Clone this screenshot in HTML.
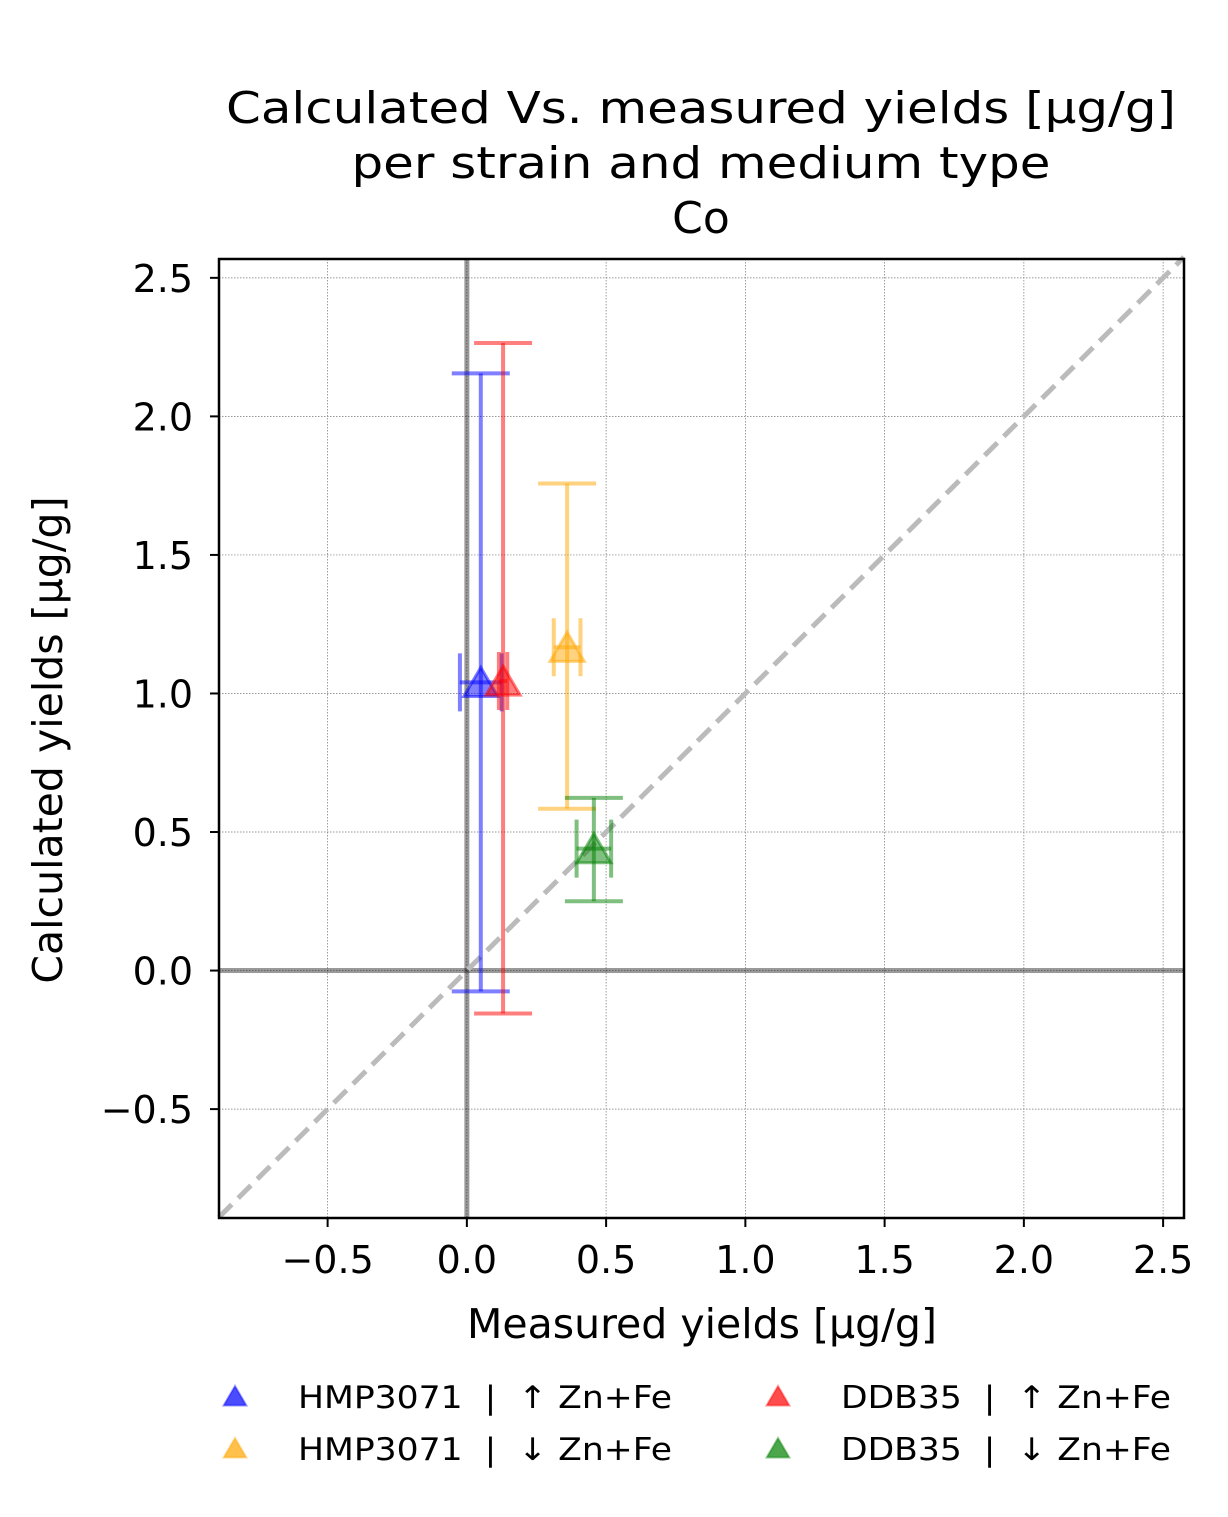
<!DOCTYPE html>
<html><head><meta charset="utf-8"><style>
body{margin:0;background:#fff}
svg text{font-family:"DejaVu Sans","Liberation Sans",sans-serif;fill:#000}
</style></head><body>
<svg id="chart" width="1228" height="1512" xmlns="http://www.w3.org/2000/svg">
<g id="title" font-size="44" text-anchor="middle">
<text x="701" y="123" textLength="950" lengthAdjust="spacingAndGlyphs">Calculated Vs. measured yields [µg/g]</text>
<text x="701" y="178" textLength="699" lengthAdjust="spacingAndGlyphs">per strain and medium type</text>
<text x="701" y="233">Co</text>
</g>
<g id="grid"></g>
<g id="refs"></g>
<g id="marks"></g>
<rect x="219" y="259" width="965" height="959" fill="none" stroke="#000" stroke-width="2.5"/>
<g id="ticks" font-size="38"></g>
<text x="702" y="1338" font-size="41" text-anchor="middle">Measured yields [µg/g]</text>
<text transform="translate(62,740) rotate(-90)" font-size="41" text-anchor="middle">Calculated yields [µg/g]</text>
<g id="legend" font-size="31"></g>
</svg>
<script>
const names=["HMP3071  |  ↑ Zn+Fe","HMP3071  |  ↓ Zn+Fe","DDB35  |  ↑ Zn+Fe","DDB35  |  ↓ Zn+Fe"];
const colors=["#0000ff","#ffa500","#ff0000","#008000"];
const xVals=[0.05,0.36,0.13,0.456];
const yVals=[1.04,1.167,1.045,0.44];
const xErr=[0.075,0.048,0.015,0.062];
const yLow=[-0.075,0.584,-0.155,0.25];
const yHigh=[2.155,1.758,2.265,0.623];
const ticks=[-0.5,0,0.5,1,1.5,2,2.5];
const tickLabels=["−0.5","0.0","0.5","1.0","1.5","2.0","2.5"];
const legendWidths=[374,374,330,330];
const X0=219,X1=1184,Y0=259,Y1=1218,xmin=-0.89,xmax=2.575,ymin=-0.893,ymax=2.568;
const sx=v=>X0+(v-xmin)/(xmax-xmin)*(X1-X0);
const sy=v=>Y1-(v-ymin)/(ymax-ymin)*(Y1-Y0);
const NS="http://www.w3.org/2000/svg";
function mk(parent,tag,attrs,text){const e=document.createElementNS(NS,tag);for(const k in attrs)e.setAttribute(k,attrs[k]);if(text!==undefined)e.textContent=text;document.getElementById(parent).appendChild(e);return e;}
ticks.forEach((t,i)=>{
 let g=mk('grid','line',{x1:sx(t),x2:sx(t),y1:Y0,y2:Y1,stroke:'#777','stroke-width':0.7,'stroke-dasharray':'1.5,1.5'});
 
 
 g=mk('grid','line',{x1:X0,x2:X1,y1:sy(t),y2:sy(t),stroke:'#777','stroke-width':0.7,'stroke-dasharray':'1.5,1.5'});
 
 
 let tk=mk('ticks','line',{x1:sx(t),x2:sx(t),y1:Y1,y2:Y1+9,stroke:'#000','stroke-width':2});
 
 
 tk=mk('ticks','line',{x1:X0-9,x2:X0,y1:sy(t),y2:sy(t),stroke:'#000','stroke-width':2});
 
 
 let lx=mk('ticks','text',{x:sx(t),y:Y1+55,'text-anchor':'middle'},tickLabels[i]);
 
 
 let ly=mk('ticks','text',{x:X0-26,y:sy(t)+14,'text-anchor':'end'},tickLabels[i]);
 
 
});
let r=mk('refs','line',{x1:sx(0),x2:sx(0),y1:Y0,y2:Y1,stroke:'#000','stroke-opacity':0.4,'stroke-width':5});


r=mk('refs','line',{x1:X0,x2:X1,y1:sy(0),y2:sy(0),stroke:'#000','stroke-opacity':0.4,'stroke-width':5});


r=mk('refs','line',{x1:sx(xmin),y1:sy(xmin),x2:sx(xmax),y2:sy(xmax),stroke:'#bbb','stroke-width':5,'stroke-dasharray':'18,9'});


function tri(cx,cy,s){return `${cx},${cy-s} ${cx-s*0.95},${cy+s*0.62} ${cx+s*0.95},${cy+s*0.62}`;}
names.forEach((n,i)=>{
 const c=colors[i],x=sx(xVals[i]),y=sy(yVals[i]),cap=29,sw=4;
 const o={stroke:c,'stroke-width':sw,'stroke-opacity':0.5};
 const parts=[
  [x,x,sy(yLow[i]),sy(yHigh[i]),'y-error-bar'],
  [x-cap,x+cap,sy(yLow[i]),sy(yLow[i]),'y-error-cap'],
  [x-cap,x+cap,sy(yHigh[i]),sy(yHigh[i]),'y-error-cap'],
  [sx(xVals[i]-xErr[i]),sx(xVals[i]+xErr[i]),y,y,'x-error-bar'],
  [sx(xVals[i]-xErr[i]),sx(xVals[i]-xErr[i]),y-cap,y+cap,'x-error-cap'],
  [sx(xVals[i]+xErr[i]),sx(xVals[i]+xErr[i]),y-cap,y+cap,'x-error-cap']];
 parts.forEach(p=>{const l=mk('marks','line',Object.assign({x1:p[0],x2:p[1],y1:p[2],y2:p[3]},o));
  
  });
 const m=mk('marks','polygon',{points:tri(x,y+3,18),fill:c,'fill-opacity':0.5,stroke:c,'stroke-opacity':0.5,'stroke-width':3});
 
 
 const lx=i<2?235:778, ly=i%2===0?1396:1448;
 const lm=mk('legend','polygon',{points:tri(lx,ly+2,12),fill:c,'fill-opacity':0.7,stroke:c,'stroke-opacity':0.4,'stroke-width':2});
 
 
 const lt=mk('legend','text',{x:lx+63,y:ly+12,style:'white-space:pre',textLength:legendWidths[i],lengthAdjust:'spacingAndGlyphs'},n);
 
 
});
</script>
</body></html>
